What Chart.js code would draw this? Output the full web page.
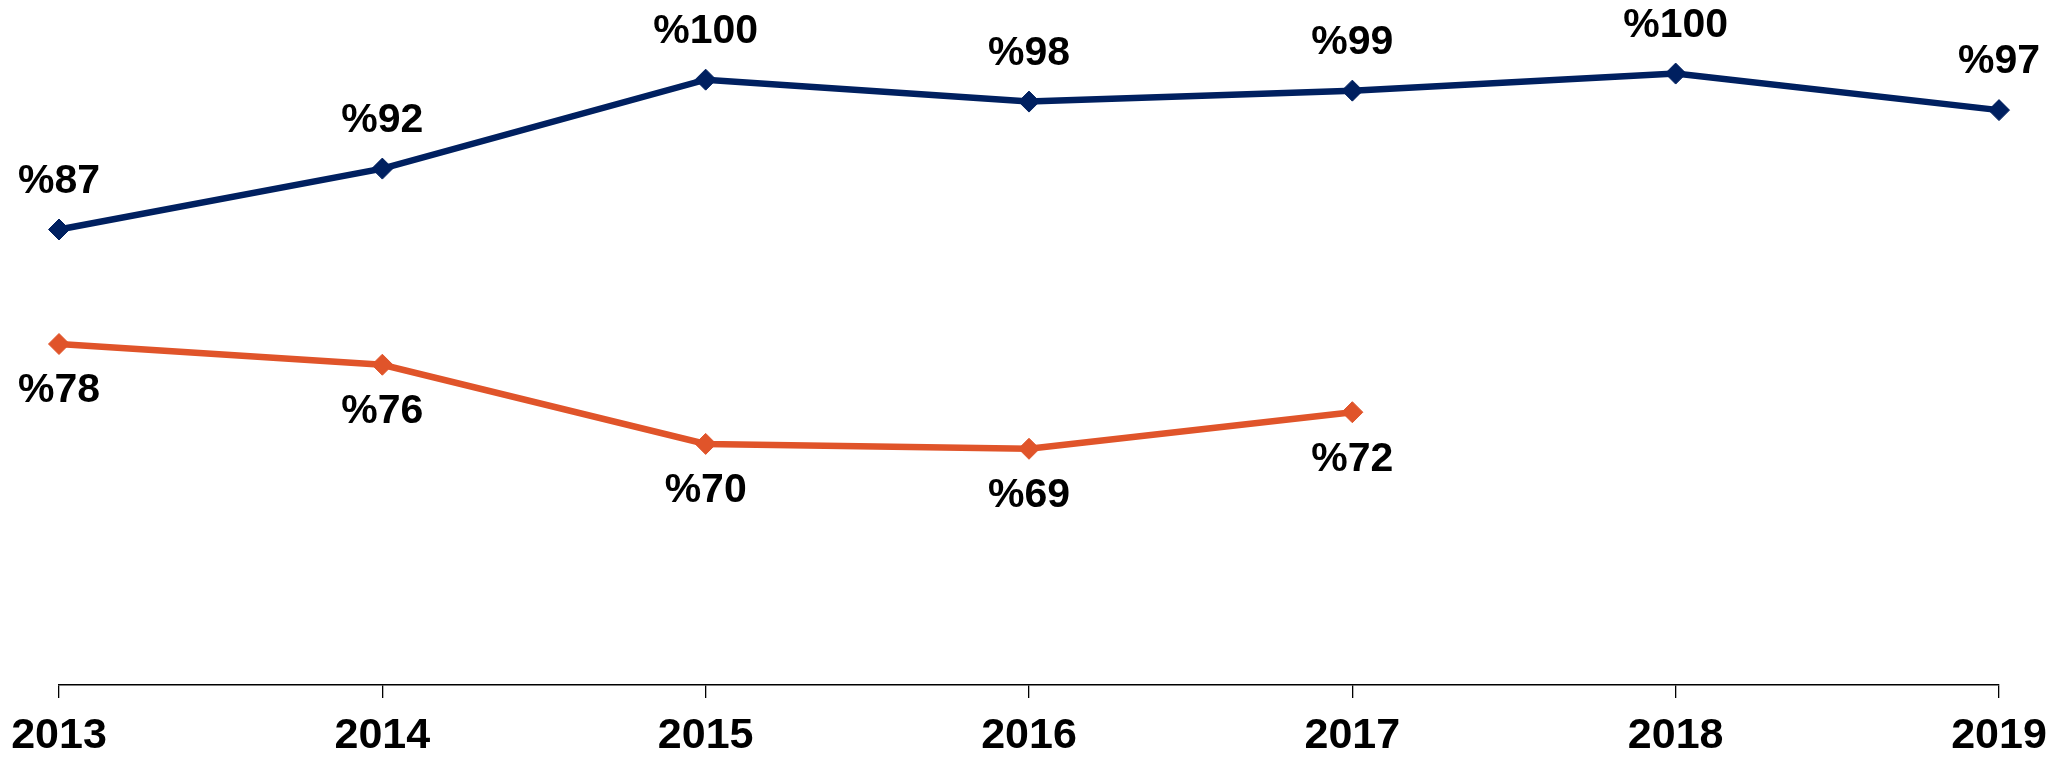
<!DOCTYPE html>
<html>
<head>
<meta charset="utf-8">
<script src="https://cdn.jsdelivr.net/npm/chart.js@4/dist/chart.umd.min.js"></script>
<style>
  html, body { margin: 0; padding: 0; background: #ffffff; }
  canvas { display: block; }
</style>
</head>
<body>
<canvas id="c" width="2058" height="758"></canvas>
<script>
const categories = ['2013', '2014', '2015', '2016', '2017', '2018', '2019'];
const seriesBlue = [87.4, 92.4, 99.7, 97.9, 98.8, 100.2, 97.2];
const seriesOrange = [78.0, 76.3, 69.8, 69.4, 72.4, null, null];

const BLUE = '#002060';
const ORANGE = '#E0542A';
const FONT = "'Liberation Sans', Arial, sans-serif";

const valueLabels = {
  id: 'valueLabels',
  afterDatasetsDraw(chart) {
    const ctx = chart.ctx;
    ctx.save();
    ctx.font = 'bold 41px ' + FONT;
    ctx.fillStyle = '#000000';
    ctx.textAlign = 'center';
    ctx.textBaseline = 'middle';
    chart.data.datasets.forEach((ds, i) => {
      const meta = chart.getDatasetMeta(i);
      meta.data.forEach((pt, j) => {
        const v = ds.data[j];
        if (v === null || v === undefined) return;
        ctx.fillText('%' + Math.round(v), pt.x, pt.y + ds.labelOffset);
      });
    });
    ctx.restore();
  }
};

new Chart(document.getElementById('c'), {
  type: 'line',
  data: {
    labels: categories,
    datasets: [
      {
        data: seriesBlue,
        borderColor: BLUE,
        backgroundColor: BLUE,
        borderWidth: 6.5,
        pointStyle: 'rectRot',
        pointRadius: 10.5,
        pointBorderWidth: 1,
        pointBorderColor: BLUE,
        pointBackgroundColor: BLUE,
        tension: 0,
        fill: false,
        clip: false,
        labelOffset: -48
      },
      {
        data: seriesOrange,
        borderColor: ORANGE,
        backgroundColor: ORANGE,
        borderWidth: 6.5,
        pointStyle: 'rectRot',
        pointRadius: 10.5,
        pointBorderWidth: 1,
        pointBorderColor: ORANGE,
        pointBackgroundColor: ORANGE,
        tension: 0,
        fill: false,
        clip: false,
        spanGaps: false,
        labelOffset: 47
      }
    ]
  },
  options: {
    responsive: false,
    devicePixelRatio: 1,
    animation: false,
    layout: { autoPadding: false, padding: { left: 59, right: 59, top: 0, bottom: -16 } },
    plugins: {
      legend: { display: false },
      tooltip: { enabled: false }
    },
    scales: {
      x: {
        offset: false,
        grid: {
          display: true,
          drawOnChartArea: false,
          drawTicks: true,
          tickLength: 13,
          color: '#000000',
          lineWidth: 1.3
        },
        border: { display: true, color: '#000000', width: 1.5 },
        ticks: {
          color: '#000000',
          padding: 10,
          maxRotation: 0,
          autoSkip: false,
          font: { family: FONT, size: 43, weight: 'bold', lineHeight: 1.30 }
        }
      },
      y: {
        display: false,
        min: 50,
        max: 106.24
      }
    }
  },
  plugins: [valueLabels]
});
</script>
</body>
</html>
